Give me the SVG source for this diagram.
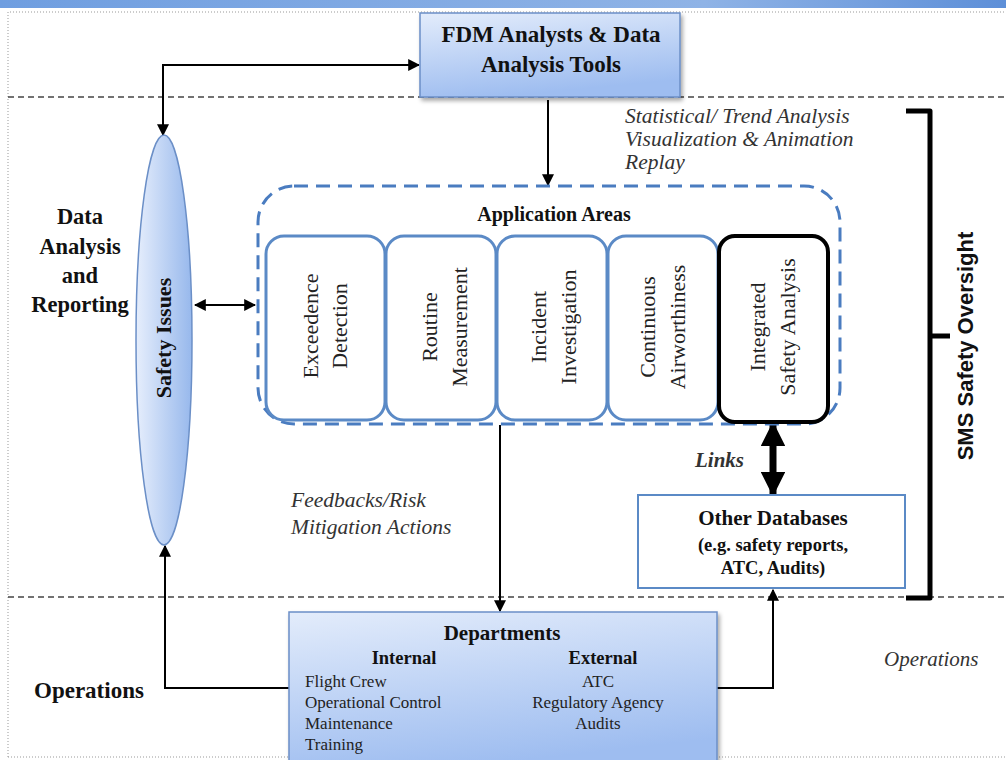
<svg xmlns="http://www.w3.org/2000/svg" width="1006" height="760" viewBox="0 0 1006 760">
<defs>
<linearGradient id="gBox" x1="0" y1="0" x2="0.3" y2="1">
<stop offset="0" stop-color="#e3ecfb"/><stop offset="1" stop-color="#9ebdf0"/>
</linearGradient>
<linearGradient id="gEll" x1="0" y1="0" x2="1" y2="0">
<stop offset="0" stop-color="#e6eefc"/><stop offset="1" stop-color="#97b8ec"/>
</linearGradient>
<linearGradient id="gBand" x1="0" y1="0" x2="1" y2="0">
<stop offset="0" stop-color="#6f9ee0"/><stop offset="0.7" stop-color="#8fb3e6"/><stop offset="1" stop-color="#5d8fd8"/>
</linearGradient>
<marker id="ah" viewBox="0 0 10 10" refX="9" refY="5" markerWidth="6" markerHeight="6" orient="auto-start-reverse">
<path d="M0,0 L10,5 L0,10 z" fill="#000"/>
</marker>
<marker id="ahBig" viewBox="0 0 10 10" refX="9" refY="5" markerWidth="4" markerHeight="3.5" orient="auto-start-reverse">
<path d="M0,0 L10,5 L0,10 z" fill="#000"/>
</marker>
<filter id="sh" x="-10%" y="-10%" width="130%" height="130%">
<feDropShadow dx="2" dy="3" stdDeviation="2" flood-color="#000" flood-opacity="0.35"/>
</filter>
</defs>
<style>
.b{font-family:"Liberation Serif","Times New Roman",serif;font-weight:bold;fill:#111}
.r{font-family:"Liberation Serif","Times New Roman",serif;fill:#222}
.i{font-family:"Liberation Serif","Times New Roman",serif;font-style:italic;fill:#333}
.dash{stroke:#444;stroke-width:1.6;stroke-dasharray:6 4;fill:none}
.dot{stroke:#999;stroke-width:1;stroke-dasharray:1 2;fill:none}
.con{stroke:#000;stroke-width:2;fill:none}
.app{fill:#fff;stroke:#5b8ac6;stroke-width:3}
</style>
<rect x="0" y="0" width="1006" height="760" fill="#fff"/>
<rect x="0" y="0" width="1006" height="8" fill="url(#gBand)"/>
<g id="frame">
<path class="dot" d="M8,757 L8,12 L1006,12"/>
<path class="dot" d="M8,757 L1006,757"/>
<line class="dash" x1="8" y1="97" x2="1006" y2="97"/>
<line class="dash" x1="8" y1="597" x2="1006" y2="597"/>
</g>
<g id="connectors">
<path class="con" d="M163,135 L163,65 L419,65" marker-start="url(#ah)" marker-end="url(#ah)"/>
<path class="con" d="M548,100 L548,185" marker-end="url(#ah)"/>
<path class="con" d="M195,305 L255,305" marker-start="url(#ah)" marker-end="url(#ah)"/>
<path class="con" d="M500,425 L500,611" marker-end="url(#ah)"/>
<path class="con" d="M289,688 L165,688 L165,546" marker-end="url(#ah)"/>
<path class="con" d="M717,688 L773,688 L773,590" marker-end="url(#ah)"/>
<path d="M773,424 L773,494" stroke="#000" stroke-width="7" fill="none" marker-start="url(#ahBig)" marker-end="url(#ahBig)"/>
</g>
<g id="fdm">
<rect x="420" y="13" width="260" height="84" fill="url(#gBox)" stroke="#6b8fc7" stroke-width="1.5" filter="url(#sh)"/>
<text class="b" x="551" y="42" font-size="23" text-anchor="middle">FDM Analysts &amp; Data</text>
<text class="b" x="551" y="72" font-size="23" text-anchor="middle">Analysis Tools</text>
</g>
<g id="trend">
<text class="i" x="625" y="123" font-size="21.5">Statistical/ Trend Analysis</text>
<text class="i" x="625" y="146" font-size="21.5">Visualization &amp; Animation</text>
<text class="i" x="625" y="169" font-size="21.5">Replay</text>
</g>
<g id="data-label">
<text class="b" x="80" y="224" font-size="22.5" text-anchor="middle">Data</text>
<text class="b" x="80" y="254" font-size="22.5" text-anchor="middle">Analysis</text>
<text class="b" x="80" y="283" font-size="22.5" text-anchor="middle">and</text>
<text class="b" x="80" y="312" font-size="22.5" text-anchor="middle">Reporting</text>
</g>
<g id="safety-issues">
<ellipse cx="164" cy="340" rx="28" ry="205" fill="url(#gEll)" stroke="#6b8fc7" stroke-width="1.5"/>
<text class="b" transform="translate(171,338) rotate(-90)" font-size="22" text-anchor="middle">Safety Issues</text>
</g>
<g id="application-areas">
<rect x="258" y="186" width="582" height="238" rx="36" fill="none" stroke="#4a7cc0" stroke-width="3" stroke-dasharray="14 8"/>
<text class="b" x="554" y="221" font-size="20" text-anchor="middle">Application Areas</text>
</g>
<g id="exceedence">
<rect class="app" x="266" y="236" width="119" height="184" rx="18"/>
<text class="r" transform="translate(318,326) rotate(-90)" font-size="22" text-anchor="middle">Exceedence</text>
<text class="r" transform="translate(347,326) rotate(-90)" font-size="22" text-anchor="middle">Detection</text>
</g>
<g id="routine">
<rect class="app" x="386" y="236" width="110" height="184" rx="18"/>
<text class="r" transform="translate(437,327) rotate(-90)" font-size="22" text-anchor="middle">Routine</text>
<text class="r" transform="translate(467,327) rotate(-90)" font-size="22" text-anchor="middle">Measurement</text>
</g>
<g id="incident">
<rect class="app" x="497" y="236" width="110" height="184" rx="18"/>
<text class="r" transform="translate(546,327) rotate(-90)" font-size="22" text-anchor="middle">Incident</text>
<text class="r" transform="translate(576,327) rotate(-90)" font-size="22" text-anchor="middle">Investigation</text>
</g>
<g id="continuous">
<rect class="app" x="608" y="236" width="110" height="184" rx="18"/>
<text class="r" transform="translate(655,327) rotate(-90)" font-size="22" text-anchor="middle">Continuous</text>
<text class="r" transform="translate(685,327) rotate(-90)" font-size="22" text-anchor="middle">Airworthiness</text>
</g>
<g id="integrated">
<rect x="719" y="236" width="109" height="186" rx="16" fill="#fff" stroke="#000" stroke-width="4"/>
<text class="r" transform="translate(765,327) rotate(-90)" font-size="22" text-anchor="middle">Integrated</text>
<text class="r" transform="translate(795,327) rotate(-90)" font-size="22" text-anchor="middle">Safety Analysis</text>
</g>
<g id="links-label">
<text class="i" x="695" y="467" font-size="21" font-weight="bold">Links</text>
</g>
<g id="feedback-label">
<text class="i" x="291" y="507" font-size="21.5">Feedbacks/Risk</text>
<text class="i" x="291" y="534" font-size="21.5">Mitigation Actions</text>
</g>
<g id="other-databases">
<rect x="638" y="495" width="267" height="93" fill="#fff" stroke="#5b8ac6" stroke-width="2"/>
<text class="b" x="773" y="525" font-size="21" text-anchor="middle">Other Databases</text>
<text class="b" x="773" y="551" font-size="18.5" text-anchor="middle">(e.g. safety reports,</text>
<text class="b" x="773" y="574" font-size="18.5" text-anchor="middle">ATC, Audits)</text>
</g>
<g id="sms">
<path d="M906,111 L930,111 L930,598 L906,598 M930,336 L950,336" stroke="#000" stroke-width="5" fill="none" stroke-linejoin="round"/>
<text transform="translate(973,346) rotate(-90)" font-family="Liberation Sans, Arial, sans-serif" font-weight="bold" font-size="22" text-anchor="middle" fill="#111">SMS Safety Oversight</text>
</g>
<g id="departments">
<rect x="289" y="612" width="428" height="160" fill="url(#gBox)" stroke="#6b8fc7" stroke-width="1.5" filter="url(#sh)"/>
<text class="b" x="502" y="640" font-size="21" text-anchor="middle">Departments</text>
<text class="b" x="404" y="664" font-size="18.5" text-anchor="middle">Internal</text>
<text class="b" x="603" y="664" font-size="18.5" text-anchor="middle">External</text>
<text class="r" x="305" y="687" font-size="17">Flight Crew</text>
<text class="r" x="305" y="708" font-size="17">Operational Control</text>
<text class="r" x="305" y="729" font-size="17">Maintenance</text>
<text class="r" x="305" y="750" font-size="17">Training</text>
<text class="r" x="598" y="687" font-size="17" text-anchor="middle">ATC</text>
<text class="r" x="598" y="708" font-size="17" text-anchor="middle">Regulatory Agency</text>
<text class="r" x="598" y="729" font-size="17" text-anchor="middle">Audits</text>
</g>
<g id="operations-labels">
<text class="b" x="34" y="698" font-size="23">Operations</text>
<text class="i" x="884" y="666" font-size="21">Operations</text>
</g>
</svg>
